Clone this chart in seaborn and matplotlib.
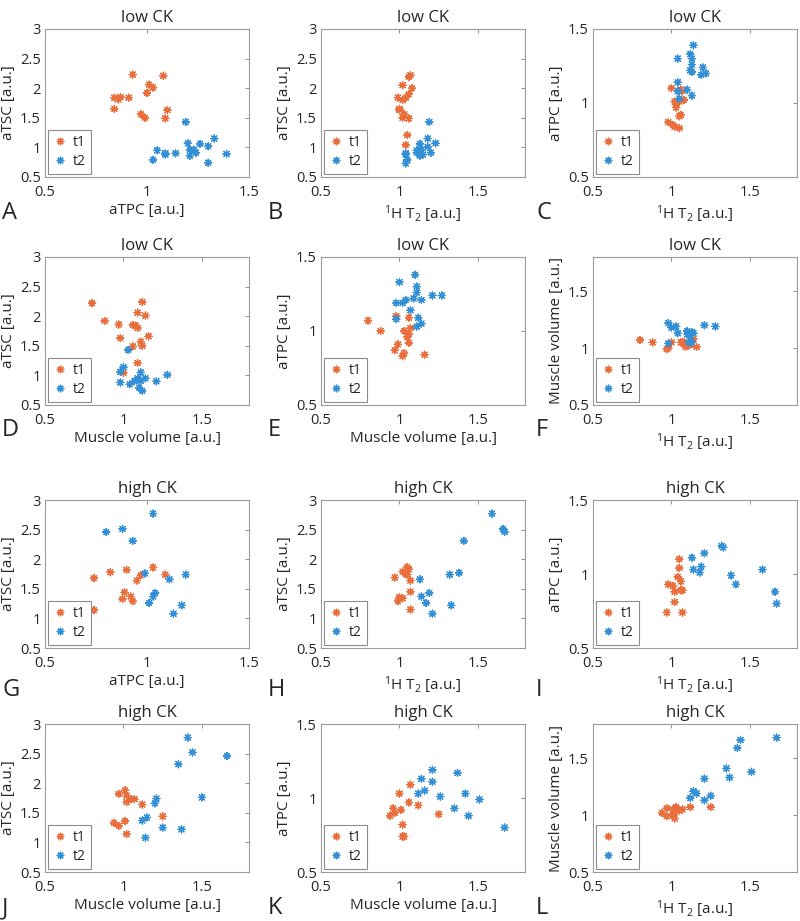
import matplotlib

matplotlib.use("Agg")
import matplotlib.pyplot as plt
import pandas as pd
import seaborn as sns
from matplotlib.lines import Line2D
from matplotlib.ticker import FuncFormatter


# Values, one list of (x, y) pairs per panel and time point.
A_t1 = [(0.93, 2.23), (1.08, 2.21), (1.01, 2.06), (1.03, 2.01), (1.00, 1.92), (0.84, 1.84), (0.86, 1.81),
        (0.87, 1.85), (0.91, 1.84), (0.84, 1.65), (0.97, 1.56), (0.99, 1.50), (1.10, 1.63), (1.09, 1.49)]
A_t2 = [(1.19, 1.43), (1.20, 1.07), (1.33, 1.15), (1.26, 1.06), (1.30, 1.02), (1.21, 0.96), (1.23, 0.96),
        (1.24, 0.91), (1.21, 0.86), (1.05, 0.95), (1.09, 0.90), (1.09, 0.88), (1.14, 0.90), (1.03, 0.79),
        (1.30, 0.74), (1.39, 0.89)]
B_t1 = [(1.07, 2.22), (1.06, 2.19), (1.02, 2.05), (1.08, 2.00), (1.06, 1.90), (0.99, 1.84), (1.04, 1.84),
        (1.02, 1.80), (1.00, 1.65), (1.00, 1.63), (1.03, 1.56), (1.02, 1.50), (1.06, 1.49), (1.05, 1.21),
        (1.04, 1.04)]
B_t2 = [(1.19, 1.43), (1.18, 1.15), (1.23, 1.07), (1.13, 1.06), (1.18, 1.01), (1.13, 0.97), (1.11, 0.95),
        (1.14, 0.95), (1.11, 0.91), (1.20, 0.91), (1.15, 0.88), (1.13, 0.86), (1.04, 0.90), (1.04, 0.88),
        (1.05, 0.79), (1.04, 0.73)]
C_t1 = [(1.00, 1.10), (1.06, 1.09), (1.05, 1.08), (1.07, 1.08), (1.02, 1.01), (1.03, 0.99), (1.03, 0.97),
        (1.08, 1.02), (1.05, 1.01), (1.06, 0.92), (1.05, 0.91), (0.98, 0.87), (1.01, 0.85), (1.02, 0.84),
        (1.05, 0.83)]
C_t2 = [(1.14, 1.39), (1.12, 1.33), (1.13, 1.30), (1.04, 1.30), (1.13, 1.26), (1.20, 1.24), (1.12, 1.22),
        (1.13, 1.21), (1.19, 1.19), (1.22, 1.20), (1.04, 1.14), (1.10, 1.09), (1.04, 1.08), (1.13, 1.05),
        (1.05, 1.03)]
D_t1 = [(0.80, 2.22), (1.12, 2.24), (1.09, 2.06), (1.14, 2.01), (0.88, 1.92), (0.97, 1.86), (1.06, 1.85),
        (1.08, 1.84), (1.09, 1.80), (1.16, 1.66), (0.98, 1.63), (1.11, 1.57), (1.06, 1.49), (1.12, 1.50),
        (1.09, 1.21), (1.00, 1.04)]
D_t2 = [(1.03, 1.43), (1.00, 1.14), (0.98, 1.06), (1.11, 1.05), (1.28, 1.01), (1.14, 0.95), (1.09, 0.95),
        (1.07, 0.90), (1.11, 0.91), (1.21, 0.90), (0.98, 0.88), (1.04, 0.85), (1.10, 0.79), (1.12, 0.74)]
E_t1 = [(0.80, 1.07), (0.88, 1.00), (0.98, 1.10), (1.06, 1.09), (1.03, 1.00), (1.07, 1.02), (1.06, 0.98),
        (1.05, 0.96), (1.06, 0.92), (0.99, 0.91), (0.97, 0.87), (1.03, 0.85), (1.02, 0.83), (1.16, 0.84)]
E_t2 = [(1.10, 1.38), (1.00, 1.33), (1.11, 1.30), (1.11, 1.26), (1.27, 1.24), (1.21, 1.24), (1.09, 1.22),
        (1.04, 1.21), (1.14, 1.21), (1.02, 1.19), (0.98, 1.19), (1.07, 1.14), (0.98, 1.08), (1.12, 1.09),
        (1.14, 1.05), (1.11, 1.03)]
F_t1 = [(0.80, 1.07), (0.88, 1.05), (1.00, 1.05), (0.97, 0.99), (0.98, 1.00), (1.06, 1.05), (1.07, 1.05),
        (1.08, 1.05), (1.09, 1.03), (1.09, 1.01), (1.11, 1.03), (1.13, 1.06), (1.14, 1.08), (1.16, 1.01),
        (1.12, 1.03)]
F_t2 = [(0.98, 1.22), (1.00, 1.18), (1.03, 1.19), (1.04, 1.13), (1.10, 1.15), (1.10, 1.12), (1.12, 1.11),
        (1.13, 1.14), (1.14, 1.13), (1.21, 1.20), (1.28, 1.19), (0.98, 1.04), (1.11, 1.05), (1.13, 1.05)]
G_t1 = [(0.74, 1.68), (0.74, 1.14), (0.82, 1.78), (0.90, 1.82), (1.03, 1.86), (0.97, 1.73), (1.09, 1.74),
        (0.95, 1.64), (0.89, 1.44), (0.88, 1.33), (0.92, 1.37), (0.93, 1.29)]
G_t2 = [(1.03, 2.77), (0.80, 2.46), (0.88, 2.51), (0.93, 2.31), (0.99, 1.76), (1.19, 1.74), (1.11, 1.66),
        (1.04, 1.43), (1.03, 1.37), (1.01, 1.26), (1.17, 1.22), (1.13, 1.08)]
H_t1 = [(0.97, 1.69), (1.02, 1.79), (1.05, 1.87), (1.06, 1.83), (1.04, 1.75), (1.05, 1.74), (1.07, 1.64),
        (1.07, 1.45), (1.00, 1.36), (1.02, 1.34), (0.99, 1.29), (1.07, 1.15)]
H_t2 = [(1.59, 2.77), (1.66, 2.51), (1.67, 2.46), (1.41, 2.31), (1.38, 1.77), (1.32, 1.74), (1.13, 1.66),
        (1.19, 1.43), (1.14, 1.37), (1.17, 1.26), (1.33, 1.22), (1.21, 1.08)]
I_t1 = [(1.05, 1.10), (1.05, 1.04), (1.04, 0.98), (0.98, 0.93), (1.01, 0.92), (1.06, 0.95), (1.06, 0.89),
        (1.07, 0.89), (1.02, 0.88), (1.02, 0.81), (0.97, 0.74), (1.07, 0.74)]
I_t2 = [(1.32, 1.19), (1.33, 1.18), (1.21, 1.14), (1.13, 1.11), (1.14, 1.03), (1.19, 1.05), (1.18, 1.01),
        (1.58, 1.03), (1.38, 0.99), (1.41, 0.93), (1.66, 0.88), (1.67, 0.80)]
J_t1 = [(1.01, 1.88), (0.97, 1.82), (1.02, 1.79), (1.07, 1.73), (1.05, 1.73), (1.02, 1.68), (1.12, 1.64),
        (1.25, 1.44), (0.94, 1.33), (1.01, 1.36), (0.97, 1.28), (1.02, 1.14)]
J_t2 = [(1.41, 2.77), (1.44, 2.52), (1.35, 2.32), (1.66, 2.46), (1.50, 1.76), (1.21, 1.74), (1.20, 1.66),
        (1.12, 1.37), (1.15, 1.42), (1.25, 1.25), (1.37, 1.22), (1.14, 1.08)]
K_t1 = [(1.07, 1.09), (1.00, 1.03), (1.06, 0.97), (1.12, 0.95), (0.96, 0.93), (1.01, 0.92), (0.97, 0.90),
        (0.94, 0.88), (1.02, 0.82), (1.02, 0.74), (1.03, 0.74), (1.25, 0.89)]
K_t2 = [(1.21, 1.19), (1.37, 1.17), (1.14, 1.13), (1.21, 1.11), (1.12, 1.03), (1.16, 1.05), (1.26, 1.01),
        (1.42, 1.03), (1.51, 0.99), (1.35, 0.93), (1.44, 0.88), (1.67, 0.80)]
L_t1 = [(1.02, 0.97), (1.03, 1.07), (1.02, 1.02), (0.97, 1.06), (1.01, 1.05), (1.05, 1.04), (1.07, 1.05),
        (1.12, 1.07), (1.25, 1.07), (0.94, 1.02), (1.01, 1.00), (0.97, 0.99)]
L_t2 = [(1.42, 1.59), (1.44, 1.66), (1.67, 1.68), (1.35, 1.41), (1.37, 1.33), (1.51, 1.38), (1.21, 1.32),
        (1.25, 1.17), (1.21, 1.13), (1.14, 1.21), (1.16, 1.19), (1.12, 1.15)]

TIME_LABELS = ["t1", "t2"]
TPC = "aTPC [a.u.]"
TSC = "aTSC [a.u.]"
T2 = "$^1$H T$_2$ [a.u.]"
MV = "Muscle volume [a.u.]"

# letter, title, xlabel, ylabel, x max, y max, t1 points, t2 points
PANELS = [
    ("A", "low CK", TPC, TSC, 1.5, 3.0, A_t1, A_t2),
    ("B", "low CK", T2, TSC, 1.8, 3.0, B_t1, B_t2),
    ("C", "low CK", T2, TPC, 1.8, 1.5, C_t1, C_t2),
    ("D", "low CK", MV, TSC, 1.8, 3.0, D_t1, D_t2),
    ("E", "low CK", MV, TPC, 1.8, 1.5, E_t1, E_t2),
    ("F", "low CK", T2, MV, 1.8, 1.8, F_t1, F_t2),
    ("G", "high CK", TPC, TSC, 1.5, 3.0, G_t1, G_t2),
    ("H", "high CK", T2, TSC, 1.8, 3.0, H_t1, H_t2),
    ("I", "high CK", T2, TPC, 1.8, 1.5, I_t1, I_t2),
    ("J", "high CK", MV, TSC, 1.8, 3.0, J_t1, J_t2),
    ("K", "high CK", MV, TPC, 1.8, 1.5, K_t1, K_t2),
    ("L", "high CK", T2, MV, 1.8, 1.8, L_t1, L_t2),
]

COLORS = {"t1": "#E96E3C", "t2": "#3490D6"}
MARKER = (8, 2, 0)
FONT = ["Open Sans", "DejaVu Sans"]

FIG_W, FIG_H = 800, 921
COL_LEFT = [45, 321, 593]
ROW_TOP = [29, 257, 500, 724]
AX_W, AX_H = 204, 148
LETTER_X = [2, 268, 536]
LETTER_Y = [213, 430, 690, 908]


def panel_frame(t1, t2) -> pd.DataFrame:
    frames = []
    for label, pts in zip(TIME_LABELS, [t1, t2]):
        frames.append(pd.DataFrame({"x": [p[0] for p in pts], "y": [p[1] for p in pts], "time": label}))
    return pd.concat(frames, ignore_index=True)


def main() -> None:
    sns.set_style("white")
    plt.rcParams["font.family"] = FONT
    plt.rcParams["mathtext.fontset"] = "custom"
    plt.rcParams["mathtext.rm"] = "Open Sans"
    plt.rcParams["mathtext.default"] = "regular"

    fig = plt.figure(figsize=(FIG_W / 100, FIG_H / 100), dpi=100)
    fmt = FuncFormatter(lambda v, _: f"{v:g}")

    for i, (letter, title, xlabel, ylabel, xmax, ymax, t1, t2) in enumerate(PANELS):
        row, col = divmod(i, 3)
        left = COL_LEFT[col] / FIG_W
        bottom = 1 - (ROW_TOP[row] + AX_H) / FIG_H
        ax = fig.add_axes([left, bottom, AX_W / FIG_W, AX_H / FIG_H])

        df = panel_frame(t1, t2)
        sns.scatterplot(data=df, x="x", y="y", hue="time", palette=COLORS, marker=MARKER,
                        s=26, linewidth=0.9, legend=False, ax=ax)

        ax.set_xlim(0.5, xmax)
        ax.set_ylim(0.5, ymax)
        ax.set_xticks([0.5, 1.0, 1.5])
        ax.set_yticks([0.5, 1.0, 1.5, 2.0, 2.5, 3.0] if ymax > 2 else [0.5, 1.0, 1.5])
        ax.xaxis.set_major_formatter(fmt)
        ax.yaxis.set_major_formatter(fmt)
        ax.tick_params(direction="in", length=3, width=0.6, color="#7f7f7f", top=True, right=True,
                       labelsize=10.5)
        ax.tick_params(axis="x", pad=6)
        ax.tick_params(axis="y", pad=3)
        for spine in ax.spines.values():
            spine.set_color("#9b9b9b")
            spine.set_linewidth(0.8)

        ax.set_title(title, fontsize=12, pad=5)
        ax.set_xlabel(xlabel, fontsize=11, labelpad=2)
        ax.set_ylabel(ylabel, fontsize=11, labelpad=3)

        handles = [Line2D([], [], linestyle="", marker=MARKER, markersize=5.5, markeredgewidth=0.9,
                          color=COLORS[t]) for t in TIME_LABELS]
        leg = ax.legend(handles, TIME_LABELS, loc="lower left", fontsize=10, frameon=True,
                        fancybox=False, framealpha=1, edgecolor="#8c8c8c", handlelength=1.0,
                        handletextpad=0.4, borderpad=0.35, labelspacing=0.25, borderaxespad=0.25)
        leg.get_frame().set_linewidth(0.8)

        fig.text(LETTER_X[col] / FIG_W, 1 - LETTER_Y[row] / FIG_H, letter, fontsize=17,
                 ha="left", va="center")

    fig.savefig("out.png", dpi=100)
    plt.close(fig)


if __name__ == "__main__":
    main()
